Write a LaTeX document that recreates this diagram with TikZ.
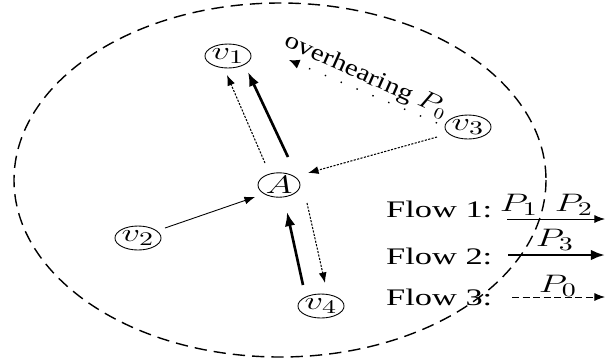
\documentclass[tikz,border=0pt]{standalone}
\usepackage{fontspec}
\setmainfont{Liberation Serif}
\usepackage{tikz}
\usetikzlibrary{shapes.geometric, arrows.meta}

% letters come out wide in this figure
\newcommand{\wide}[1]{\scalebox{1.45}[1]{#1}}

\begin{document}
\begin{tikzpicture}[
    x=0.02cm, y=-0.02cm,
    every node/.style={font=\fontsize{13.5}{15}\selectfont},
    mathlbl/.style={font=\fontsize{15}{17}\selectfont, inner sep=1pt},
    vnode/.style={ellipse, draw, line width=0.5pt, inner sep=0pt, minimum width=0.84cm, minimum height=0.48cm, font=\fontsize{15}{17}\selectfont},
    thinarrow/.style={-{Latex[length=6pt, width=4.5pt]}, line width=0.5pt},
    thickarrow/.style={-{Latex[length=8pt, width=6pt]}, line width=1.5pt},
    finearrow/.style={-{Latex[length=6pt, width=4.5pt]}, line width=0.6pt, dash pattern=on 1.2pt off 0.8pt},
    dotarrow/.style={-{Latex[length=6pt, width=5.5pt]}, line width=0.8pt, dash pattern=on 0.8pt off 9pt},
    dasharrow/.style={-{Latex[length=6pt, width=4.5pt]}, line width=0.5pt, dash pattern=on 4pt off 2pt}
]
    \useasboundingbox (0,0) rectangle (606,363);

    % range of A
    \draw[line width=0.8pt, dash pattern=on 7pt off 4pt] (280,180) ellipse [x radius=266, y radius=177];

    % nodes
    \node[vnode] (v1) at (228,56) {\wide{$v_1$}};
    \node[vnode] (v3) at (468,127) {\wide{$v_3$}};
    \node[vnode] (A) at (279,185) {\wide{$A$}};
    \node[vnode] (v2) at (138,238) {\wide{$v_2$}};
    \node[vnode] (v4) at (321,306) {\wide{$v_4$}};

    % links
    \draw[finearrow] ([shift={(-14,-22)}]A.center) -- ([shift={(-1,19)}]v1.center);
    \draw[thickarrow] ([shift={(9,-28)}]A.center) -- ([shift={(20,16)}]v1.center);
    \draw[finearrow] ([shift={(-31,10)}]v3.center) -- ([shift={(29,-12)}]A.center);
    \draw[thinarrow] ([shift={(27,-10)}]v2.center) -- ([shift={(-24,12)}]A.center);
    \draw[thickarrow] ([shift={(-18,-21)}]v4.center) -- ([shift={(8,27)}]A.center);
    \draw[finearrow] ([shift={(28,18)}]A.center) -- ([shift={(4,-23)}]v4.center);

    % overhearing
    \coordinate (ovh) at (289,60);
    \draw[dotarrow] ([shift={(-31,-4)}]v3.center) -- (ovh);
    \node[rotate=-24, inner sep=0pt] (ovhlabel) at (366,76) {\scalebox{1.22}[1]{overhearing $P_0$}};

    % flows
    \node[anchor=base west] (flow1) at (380,217) {\wide{Flow 1:}};
    \node[anchor=base west] (flow2) at (380,264) {\wide{Flow 2:}};
    \node[anchor=base west] (flow3) at (380,305) {\wide{Flow 3:}};
    \coordinate (f1s) at (507,219);
    \coordinate (f1e) at (605,219);
    \coordinate (f2s) at (508,255);
    \coordinate (f2e) at (605,255);
    \coordinate (f3s) at (512,297);
    \coordinate (f3e) at (605,297);
    \draw[thinarrow] (f1s) -- (f1e);
    \draw[thickarrow] (f2s) -- (f2e);
    \draw[dasharrow] (f3s) -- (f3e);
    \node[mathlbl] (p1) at (519,205) {\wide{$P_1$}};
    \node[mathlbl] (p2) at (574,205) {\wide{$P_2$}};
    \node[mathlbl] (p3) at (555,240) {\wide{$P_3$}};
    \node[mathlbl] (p0) at (558,286) {\wide{$P_0$}};
\end{tikzpicture}
\end{document}
